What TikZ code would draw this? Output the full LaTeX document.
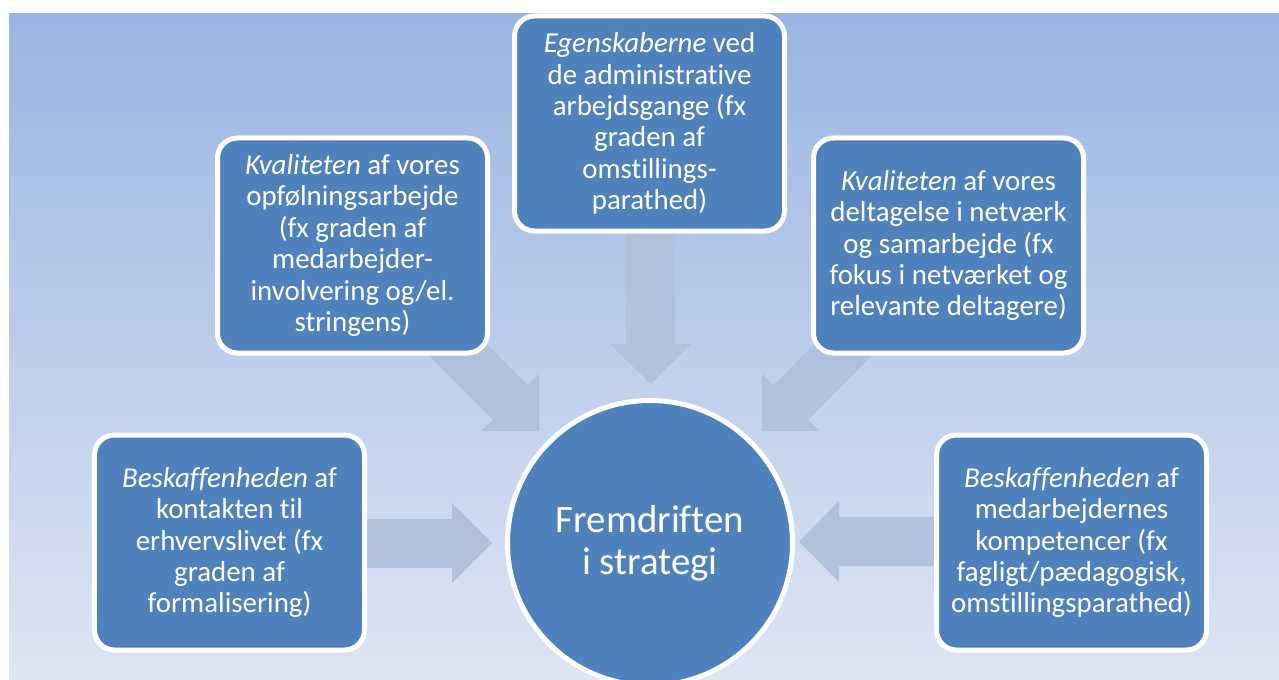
\documentclass[tikz,border=0pt]{standalone}
\usepackage{fontspec}
\setmainfont{Carlito}[Ligatures={NoCommon}]
\definecolor{bgtop}{HTML}{9AB5E2}
\definecolor{bgbot}{HTML}{DEE5F4}
\definecolor{boxblue}{HTML}{4F81BD}
\definecolor{arrowc}{HTML}{B0C1DC}
\tikzset{
  infobox/.style={draw=white, line width=5bp, fill=boxblue, rounded corners=20bp,
    minimum width=270bp, minimum height=215bp, inner sep=0pt, text=white,
    align=center, font=\fontsize{29}{31.5}\selectfont},
  hub/.style={circle, draw=white, line width=5bp, fill=boxblue, minimum size=285bp,
    inner sep=0pt, text=white, align=center, font=\fontsize{39}{42}\selectfont},
  blockarrow/.style={fill=arrowc}
}
\begin{document}
\begin{tikzpicture}[x=1bp, y=-1bp]
\useasboundingbox (0,0) rectangle (1279,680);
\fill[white] (0,0) rectangle (1279,680);
\fill[top color=bgtop, bottom color=bgbot] (9,14) rectangle (1279,680);

% block arrows
\fill[blockarrow] (626,220) -- (675,220) -- (675,344) -- (691,344) -- (650.5,384) -- (610,344) -- (626,344) -- cycle;
\fill[blockarrow] (360,519) -- (452,519) -- (452,503) -- (492,543) -- (452,583) -- (452,568) -- (360,568) -- cycle;
\fill[blockarrow] (940,517) -- (839,517) -- (839,501) -- (799,541.5) -- (839,582) -- (839,566) -- (940,566) -- cycle;
\fill[blockarrow] (427.57,284.93) -- (527.57,384.93) -- (539,373.5) -- (539,431) -- (481.5,431) -- (492.93,419.57) -- (392.93,319.57) -- cycle;
\fill[blockarrow] (873.43,284.93) -- (773.43,384.93) -- (762,373.5) -- (762,431) -- (819.5,431) -- (808.07,419.57) -- (908.07,319.57) -- cycle;

% boxes
\node[infobox] (tc) at (649.5,123.5) {\textit{Egenskaberne} ved\\de administrative\\arbejdsgange (fx\\graden af\\omstillings-\\parathed)};
\node[infobox] (tl) at (352.5,245.5) {\textit{Kvaliteten} af vores\\opfølningsarbejde\\(fx graden af\\medarbejder-\\involvering og/el.\\stringens)};
\node[infobox] (tr) at (948.5,245.5) {\textit{Kvaliteten} af vores\\deltagelse i netværk\\og samarbejde (fx\\fokus i netværket og\\relevante deltagere)};
\node[infobox] (bl) at (229.5,542.5) {\textit{Beskaffenheden} af\\kontakten til\\erhvervslivet (fx\\graden af\\formalisering)};
\node[infobox] (br) at (1071.5,542.5) {\textit{Beskaffenheden} af\\medarbejdernes\\kompetencer (fx\\fagligt/pædagogisk,\\omstillingsparathed)};

% hub
\node[hub] (hubc) at (650,543) {Fremdriften\\i strategi};
\end{tikzpicture}
\end{document}
